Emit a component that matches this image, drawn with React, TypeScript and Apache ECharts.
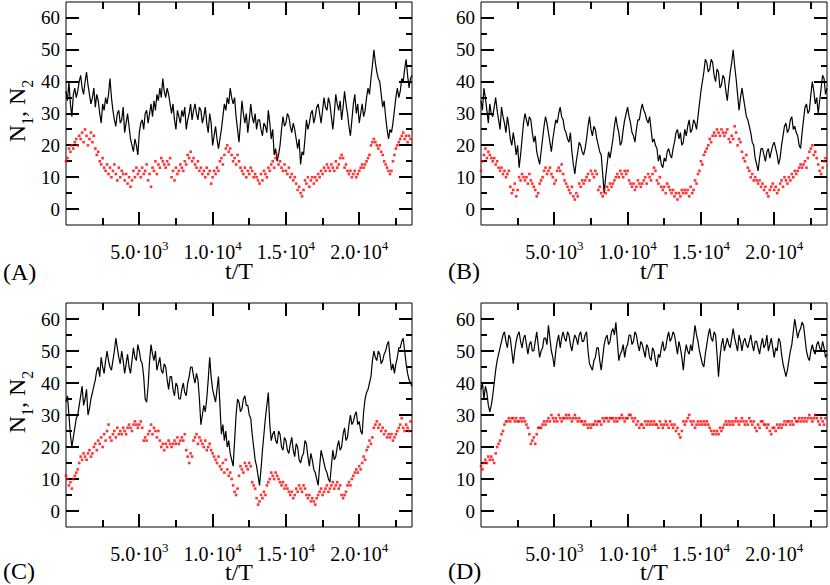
import React, { useEffect, useRef } from "react";
import * as echarts from "echarts";

// ---- data -------------------------------------------------------------
const STEP_N1 = 100; // t/T spacing of the N1 (black) samples
const STEP_N2 = 100; // t/T spacing of the N2 (red) samples
const X_MIN = 0;
const X_MAX = 23600;
const Y_MIN = -5;
const Y_MAX = 65;

const X_MAJOR = [5000, 10000, 15000, 20000];
const X_MINOR = [2500, 7500, 12500, 17500, 22500];
const X_TICK_LABELS = ["{m|5.0·10}{s|3}", "{m|1.0·10}{s|4}", "{m|1.5·10}{s|4}", "{m|2.0·10}{s|4}"];
const Y_MAJOR = [0, 10, 20, 30, 40, 50, 60];
const Y_MINOR = [5, 15, 25, 35, 45, 55];
const PANEL_LABELS = ["(A)", "(B)", "(C)", "(D)"];

const n1A = [
  37, 34, 40, 33, 29, 36, 38, 35, 37, 40, 42, 38, 36, 40, 43, 39, 36, 33, 35, 38,
  32, 36, 34, 30, 27, 33, 31, 35, 33, 36, 41, 35, 31, 28, 26, 30, 31, 27, 28, 32,
  24, 27, 30, 26, 22, 20, 18, 22, 20, 17, 24, 27, 28, 25, 30, 31, 27, 30, 33, 29,
  34, 31, 36, 34, 38, 35, 41, 37, 35, 38, 36, 33, 30, 33, 28, 25, 31, 29, 27, 31,
  29, 32, 25, 28, 30, 33, 28, 31, 33, 30, 28, 32, 31, 27, 29, 32, 27, 24, 30, 27,
  20, 23, 26, 22, 19, 22, 25, 29, 33, 31, 35, 33, 38, 35, 33, 35, 29, 25, 21, 27,
  34, 30, 27, 30, 24, 28, 33, 29, 27, 30, 25, 28, 28, 25, 23, 27, 26, 24, 31, 27,
  22, 25, 17, 19, 15, 17, 20, 25, 29, 26, 27, 30, 29, 26, 24, 27, 25, 22, 19, 22,
  14, 18, 17, 22, 28, 25, 27, 30, 31, 27, 29, 32, 33, 30, 27, 31, 35, 32, 31, 35,
  33, 29, 25, 30, 36, 33, 31, 34, 28, 32, 37, 33, 30, 26, 23, 28, 33, 36, 30, 33,
  27, 30, 33, 29, 31, 35, 38, 36, 41, 45, 50, 46, 43, 41, 40, 36, 32, 34, 29, 25,
  22, 25, 24, 27, 31, 35, 38, 35, 37, 41, 40, 44, 47, 42, 38, 41, 42,
];
const n2A = [
  15, 16, 19, 18, 20, 19, 21, 22, 20, 23, 22, 24, 21, 25, 23, 20, 22, 24, 21, 23,
  19, 17, 18, 15, 14, 16, 13, 12, 14, 11, 13, 10, 12, 14, 11, 9, 13, 10, 12, 11,
  9, 11, 8, 10, 7, 9, 12, 10, 13, 11, 12, 10, 13, 11, 12, 14, 9, 11, 7, 13,
  12, 15, 11, 14, 13, 16, 15, 14, 13, 15, 14, 16, 10, 12, 9, 13, 11, 12, 14, 13,
  12, 15, 14, 17, 16, 18, 15, 16, 14, 13, 15, 12, 13, 11, 12, 10, 13, 11, 12, 8,
  10, 12, 11, 13, 12, 15, 16, 14, 17, 19, 20, 18, 19, 17, 15, 16, 14, 17, 15, 13,
  12, 11, 13, 10, 12, 11, 13, 12, 10, 11, 10, 9, 8, 11, 9, 12, 11, 10, 13, 12,
  14, 15, 13, 16, 17, 14, 15, 13, 12, 14, 12, 11, 13, 10, 11, 9, 10, 8, 6, 7,
  5, 4, 6, 9, 8, 10, 7, 9, 10, 8, 10, 9, 11, 10, 12, 11, 13, 12, 14, 13,
  12, 14, 13, 12, 15, 13, 14, 16, 17, 16, 13, 14, 12, 11, 12, 10, 11, 12, 10, 11,
  12, 13, 14, 13, 14, 15, 16, 17, 20, 21, 22, 21, 20, 19, 20, 18, 17, 15, 14, 13,
  12, 11, 12, 15, 17, 19, 20, 21, 22, 23, 24, 22, 23, 21, 23, 22,
];

const n1B = [
  34, 31, 38, 35, 31, 27, 33, 30, 29, 32, 35, 31, 28, 25, 32, 29, 27, 24, 29, 26,
  22, 20, 24, 21, 17, 20, 13, 17, 22, 27, 30, 28, 26, 29, 28, 24, 21, 23, 18, 16,
  14, 18, 22, 26, 29, 27, 24, 21, 18, 22, 25, 28, 27, 30, 32, 29, 28, 25, 24, 22,
  21, 24, 18, 14, 11, 15, 18, 21, 20, 18, 17, 19, 22, 26, 29, 25, 23, 26, 25, 22,
  20, 18, 17, 11, 5, 10, 14, 18, 16, 19, 22, 26, 29, 26, 24, 20, 21, 25, 28, 30,
  32, 29, 27, 24, 23, 21, 25, 28, 28, 31, 33, 31, 30, 28, 27, 29, 25, 21, 22, 20,
  19, 15, 17, 14, 13, 16, 15, 18, 19, 17, 16, 19, 21, 24, 25, 22, 24, 20, 21, 25,
  23, 26, 28, 24, 25, 28, 27, 25, 29, 33, 37, 40, 43, 47, 46, 43, 44, 47, 46, 42,
  40, 44, 43, 38, 39, 42, 41, 37, 34, 39, 43, 46, 50, 45, 41, 36, 31, 35, 38, 35,
  32, 29, 28, 26, 24, 21, 20, 16, 14, 12, 16, 19, 19, 17, 15, 18, 19, 16, 18, 20,
  21, 19, 17, 14, 16, 20, 23, 26, 27, 24, 25, 28, 29, 25, 26, 24, 23, 20, 19, 24,
  28, 32, 33, 30, 31, 36, 40, 37, 33, 35, 30, 34, 38, 42, 41, 36, 38,
];
const n2B = [
  12, 15, 17, 19, 16, 18, 17, 16, 15, 16, 14, 15, 13, 12, 13, 11, 12, 10, 11, 12,
  7, 5, 6, 8, 4, 6, 10, 9, 11, 10, 9, 10, 8, 11, 9, 8, 7, 6, 4, 5,
  8, 9, 10, 12, 13, 11, 12, 13, 11, 10, 8, 9, 12, 13, 12, 14, 11, 9, 8, 7,
  6, 5, 7, 4, 3, 5, 4, 8, 7, 9, 8, 9, 10, 11, 9, 12, 11, 10, 12, 11,
  6, 7, 5, 4, 6, 5, 7, 6, 8, 7, 8, 9, 10, 11, 10, 12, 11, 10, 12, 11,
  12, 9, 8, 7, 8, 6, 7, 9, 8, 7, 8, 9, 10, 8, 11, 10, 9, 11, 13, 12,
  9, 8, 10, 7, 6, 7, 5, 8, 7, 6, 5, 6, 4, 5, 3, 5, 4, 6, 5, 6,
  5, 6, 4, 7, 5, 6, 9, 8, 11, 12, 15, 14, 17, 18, 19, 20, 22, 21, 23, 24,
  23, 25, 24, 23, 25, 24, 23, 24, 25, 22, 21, 23, 22, 26, 24, 20, 22, 21, 18, 16,
  15, 17, 13, 12, 10, 11, 9, 10, 9, 8, 9, 7, 8, 6, 7, 5, 4, 6, 7, 8,
  6, 7, 5, 6, 8, 9, 7, 10, 9, 8, 10, 9, 11, 10, 12, 11, 12, 13, 14, 13,
  14, 15, 13, 16, 18, 19, 20, 17, 18, 16, 14, 12, 11, 13, 15, 16,
];

const n1C = [
  34, 36, 30, 24, 20, 23, 26, 29, 30, 33, 36, 39, 33, 35, 38, 30, 32, 35, 37, 39,
  41, 44, 45, 42, 48, 45, 43, 47, 50, 47, 45, 44, 47, 50, 54, 51, 48, 46, 50, 47,
  43, 46, 49, 45, 43, 47, 51, 48, 47, 52, 50, 47, 46, 42, 35, 34, 39, 47, 52, 49,
  47, 50, 44, 46, 48, 44, 43, 46, 45, 41, 38, 42, 42, 38, 36, 40, 39, 35, 35, 38,
  40, 37, 36, 40, 42, 45, 45, 42, 40, 43, 41, 35, 27, 30, 33, 31, 35, 41, 48, 42,
  38, 36, 34, 38, 42, 33, 24, 27, 22, 25, 20, 22, 18, 16, 14, 22, 30, 35, 34, 31,
  32, 35, 36, 33, 33, 30, 29, 24, 20, 16, 14, 11, 8, 13, 19, 24, 29, 33, 37, 27,
  22, 24, 25, 22, 21, 25, 24, 20, 19, 23, 22, 19, 18, 21, 23, 19, 17, 21, 20, 16,
  15, 17, 18, 22, 21, 17, 14, 18, 16, 13, 12, 10, 8, 14, 19, 17, 15, 13, 12, 10,
  9, 14, 19, 16, 17, 20, 22, 19, 20, 24, 26, 22, 23, 27, 30, 27, 28, 30, 31, 27,
  28, 25, 24, 31, 35, 37, 38, 40, 42, 47, 50, 48, 47, 50, 49, 46, 47, 49, 50, 52,
  53, 48, 44, 46, 43, 46, 48, 51, 51, 53, 54, 50, 46, 43, 41, 40, 39,
];
const n2C = [
  11, 10, 8, 9, 7, 10, 11, 12, 13, 15, 17, 16, 18, 17, 16, 18, 19, 17, 18, 20,
  21, 19, 22, 21, 23, 20, 24, 22, 25, 27, 23, 22, 24, 25, 23, 26, 24, 25, 24, 26,
  25, 24, 26, 27, 26, 25, 27, 28, 27, 26, 27, 28, 26, 22, 23, 22, 24, 25, 27, 24,
  26, 25, 23, 25, 22, 20, 21, 19, 21, 20, 22, 21, 20, 21, 22, 21, 23, 21, 22, 23,
  22, 24, 19, 17, 15, 18, 17, 22, 23, 24, 21, 23, 22, 21, 20, 22, 19, 20, 21, 19,
  18, 17, 16, 15, 17, 14, 13, 15, 12, 16, 13, 11, 12, 10, 8, 6, 5, 7, 11, 14,
  13, 12, 15, 14, 13, 15, 14, 9, 8, 7, 4, 2, 3, 5, 4, 6, 5, 8, 9, 10,
  12, 11, 10, 12, 11, 10, 9, 8, 9, 7, 8, 7, 6, 5, 6, 4, 5, 7, 6, 8,
  7, 6, 8, 7, 5, 4, 5, 3, 4, 3, 2, 4, 5, 6, 7, 5, 6, 7, 8, 6,
  7, 8, 9, 7, 8, 9, 7, 8, 5, 4, 5, 6, 8, 9, 8, 10, 11, 12, 13, 12,
  14, 13, 15, 17, 16, 19, 20, 22, 21, 23, 26, 27, 28, 26, 27, 25, 26, 24, 25, 23,
  24, 23, 24, 22, 23, 24, 25, 26, 27, 29, 26, 25, 27, 26, 25, 28,
];

const n1D = [
  38, 40, 35, 39, 37, 33, 31, 33, 36, 40, 44, 47, 49, 51, 53, 55, 56, 53, 51, 55,
  54, 50, 46, 50, 53, 55, 56, 53, 51, 54, 55, 52, 49, 52, 53, 50, 50, 53, 56, 52,
  48, 50, 51, 54, 54, 52, 58, 54, 50, 48, 45, 50, 53, 55, 51, 54, 56, 54, 53, 56,
  55, 52, 50, 53, 55, 54, 52, 55, 56, 53, 53, 55, 56, 50, 46, 45, 44, 47, 48, 51,
  51, 47, 44, 48, 52, 54, 55, 52, 53, 56, 57, 55, 59, 53, 47, 49, 50, 52, 48, 51,
  52, 55, 55, 52, 53, 56, 55, 52, 50, 53, 52, 50, 48, 52, 51, 48, 47, 51, 50, 47,
  45, 49, 48, 51, 53, 50, 51, 54, 56, 53, 54, 56, 55, 52, 49, 53, 51, 48, 44, 49,
  52, 50, 49, 52, 50, 54, 58, 55, 53, 50, 48, 46, 45, 49, 52, 55, 57, 54, 53, 56,
  55, 49, 42, 48, 52, 54, 50, 52, 54, 52, 51, 54, 57, 54, 52, 50, 55, 53, 50, 53,
  54, 52, 51, 53, 55, 52, 50, 53, 53, 51, 49, 52, 54, 51, 52, 55, 50, 52, 54, 51,
  48, 51, 50, 54, 53, 49, 46, 44, 42, 44, 47, 50, 52, 56, 60, 57, 54, 56, 57, 59,
  58, 54, 50, 48, 47, 50, 52, 50, 49, 52, 53, 51, 50, 53, 51, 48, 49,
];
const n2D = [
  14, 13, 15, 16, 15, 17, 16, 17, 16, 15, 18, 20, 21, 22, 24, 25, 27, 28, 28, 29,
  28, 29, 29, 28, 29, 28, 28, 29, 28, 29, 28, 27, 26, 24, 21, 22, 23, 21, 24, 26,
  26, 26, 27, 28, 27, 28, 29, 28, 30, 29, 28, 29, 28, 30, 29, 28, 29, 29, 30, 29,
  30, 29, 28, 29, 30, 29, 28, 29, 28, 28, 27, 28, 27, 26, 27, 26, 27, 27, 28, 27,
  28, 28, 27, 29, 28, 29, 29, 28, 29, 29, 29, 28, 29, 28, 29, 29, 30, 29, 28, 29,
  29, 30, 30, 29, 28, 29, 27, 28, 26, 27, 27, 26, 28, 27, 28, 27, 28, 27, 28, 27,
  27, 26, 28, 27, 26, 27, 28, 27, 26, 28, 27, 26, 27, 25, 26, 24, 23, 25, 28, 27,
  28, 29, 30, 28, 27, 28, 26, 27, 28, 27, 28, 27, 28, 27, 28, 27, 26, 25, 24, 25,
  24, 25, 24, 26, 25, 26, 27, 28, 27, 28, 27, 28, 27, 28, 29, 28, 27, 28, 29, 28,
  27, 28, 27, 29, 28, 27, 28, 26, 25, 27, 26, 28, 28, 27, 27, 26, 27, 25, 24, 26,
  26, 25, 27, 26, 27, 26, 27, 28, 27, 28, 28, 27, 28, 27, 29, 28, 28, 29, 28, 29,
  28, 29, 28, 29, 30, 29, 28, 29, 30, 29, 28, 27, 29, 28, 27, 29,
];

const N1_SERIES = [n1A, n1B, n1C, n1D];
const N2_SERIES = [n2A, n2B, n2C, n2D];

// ---- layout -----------------------------------------------------------
const FONT = "Liberation Serif";
const GRIDS = [
  { left: 66, top: 2, width: 346, height: 223 },
  { left: 481, top: 2, width: 346, height: 223 },
  { left: 66, top: 303, width: 346, height: 224 },
  { left: 481, top: 303, width: 346, height: 224 },
];
const MAJOR_LEN = 13;
const MINOR_X_LEN = 7;
const MINOR_Y_LEN = 6;
const TICK_W = 2;

function buildOption() {
  const xAxis: any[] = [];
  const yAxis: any[] = [];
  const series: any[] = [];

  GRIDS.forEach((_, g) => {
    xAxis.push({
      gridIndex: g, type: "value", min: X_MIN, max: X_MAX, position: "bottom",
      splitLine: { show: false }, axisLine: { show: false, onZero: false }, axisTick: { show: false },
      axisLabel: {
        show: true, customValues: X_MAJOR, margin: 14,
        formatter: (v: number) => {
          const i = X_MAJOR.indexOf(v);
          return i >= 0 ? X_TICK_LABELS[i] : "";
        },
        rich: {
          m: { fontFamily: FONT, fontSize: 20, color: "#000", lineHeight: 26 },
          s: { fontFamily: FONT, fontSize: 13, color: "#000", lineHeight: 13, verticalAlign: "top" },
        },
      },
    });
    yAxis.push({
      gridIndex: g, type: "value", min: Y_MIN, max: Y_MAX, position: "left",
      splitLine: { show: false }, axisLine: { show: false, onZero: false }, axisTick: { show: false },
      axisLabel: { show: true, customValues: Y_MAJOR, margin: 6, fontFamily: FONT, fontSize: 19, color: "#000" },
    });

    series.push({
      type: "line", name: "N1", xAxisIndex: g, yAxisIndex: g,
      data: N1_SERIES[g].map((v, i) => [i * STEP_N1, v]),
      showSymbol: false, symbol: "none", lineStyle: { color: "#000", width: 1.2 }, z: 2,
    });
    series.push({
      type: "scatter", name: "N2", xAxisIndex: g, yAxisIndex: g,
      data: N2_SERIES[g].map((v, i) => [i * STEP_N2, v]),
      symbol: "rect", symbolSize: 2.6, itemStyle: { color: "#ff0000" }, z: 3,
    });
  });

  return {
    animation: false,
    backgroundColor: "#fff",
    grid: GRIDS.map((g) => ({ ...g, containLabel: false, show: true, borderColor: "#000", borderWidth: 1 })),
    xAxis,
    yAxis,
    series,
  };
}

function textGraphics() {
  const nameRich = {
    n: { fontFamily: FONT, fontSize: 24, lineHeight: 24, verticalAlign: "top", fill: "#000" },
    s: { fontFamily: FONT, fontSize: 16, lineHeight: 16, padding: [14, 0, 0, 0], verticalAlign: "top", fill: "#000" },
  };
  const out: any[] = [];
  [111, 402].forEach((cy) => {
    out.push({
      type: "text", x: 17, y: cy, rotation: Math.PI / 2,
      style: { text: "{n|N}{s|1}{n|, N}{s|2}", rich: nameRich, align: "center", verticalAlign: "middle", fontFamily: FONT, fontSize: 24, fill: "#000" },
    });
  });
  const tPos = [[239, 271], [654, 271], [239, 572], [654, 572]];
  tPos.forEach(([x, y]) => {
    out.push({ type: "text", x, y, style: { text: "t/T", fontFamily: FONT, fontSize: 24, fill: "#000", align: "center", verticalAlign: "middle" } });
  });
  const pPos = [[3, 272], [448, 271], [3, 571], [448, 571]];
  pPos.forEach(([x, y], i) => {
    out.push({ type: "text", x, y, style: { text: PANEL_LABELS[i], fontFamily: FONT, fontSize: 24, fill: "#000", align: "left", verticalAlign: "middle" } });
  });
  return out;
}

// tick marks on all four sides, placed through the chart's own axis scales
function tickGraphics(chart: echarts.ECharts) {
  const out: any[] = [];
  GRIDS.forEach((_, g) => {
    const bar = (x: number, y: number, bw: number, bh: number) => ({
      type: "rect", shape: { x, y, width: bw, height: bh }, style: { fill: "#000" },
    });
    const px = (x: number, y: number) => chart.convertToPixel({ xAxisIndex: g, yAxisIndex: g } as any, [x, y]) as number[];
    const [left, bottom] = px(X_MIN, Y_MIN);
    const [right, top] = px(X_MAX, Y_MAX);
    const xTicks = (vals: number[], len: number) =>
      vals.forEach((v) => {
        const x = Math.round(px(v, Y_MIN)[0]) - TICK_W / 2;
        out.push(bar(x, bottom - len, TICK_W, len));
        out.push(bar(x, top, TICK_W, len));
      });
    const yTicks = (vals: number[], len: number) =>
      vals.forEach((v) => {
        const y = Math.round(px(X_MIN, v)[1]) - TICK_W / 2;
        out.push(bar(left, y, len, TICK_W));
        out.push(bar(right - len, y, len, TICK_W));
      });
    xTicks(X_MAJOR, MAJOR_LEN);
    xTicks(X_MINOR, MINOR_X_LEN);
    yTicks(Y_MAJOR, MAJOR_LEN);
    yTicks(Y_MINOR, MINOR_Y_LEN);
  });
  return out;
}

export default function App() {
  const ref = useRef<HTMLDivElement>(null);
  useEffect(() => {
    if (!ref.current) return;
    const chart = echarts.init(ref.current, undefined, { renderer: "svg" });
    chart.setOption(buildOption() as any);
    chart.setOption({ graphic: { elements: [...textGraphics(), ...tickGraphics(chart)] } } as any);
    return () => chart.dispose();
  }, []);
  return (
    <div
      ref={ref}
      style={{ position: "fixed", left: 0, top: 0, width: 830, height: 585, background: "#fff" }}
    />
  );
}
